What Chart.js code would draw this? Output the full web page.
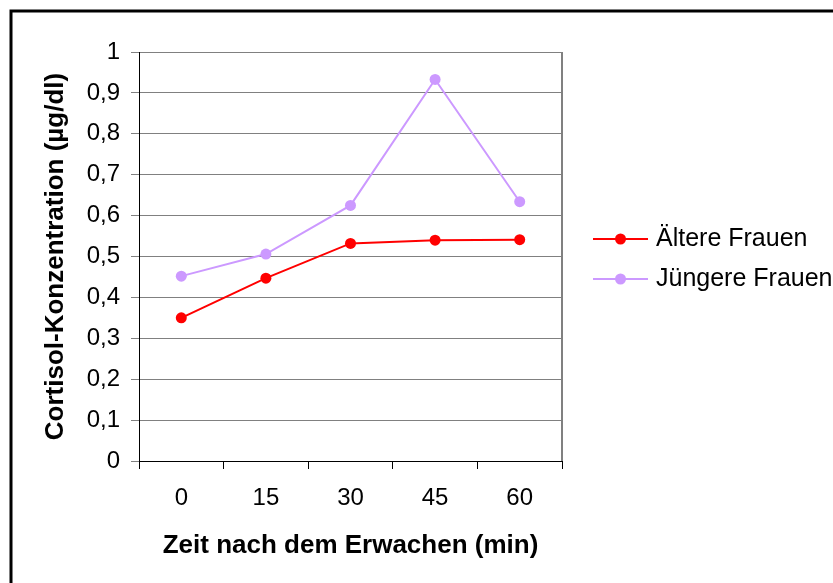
<!DOCTYPE html>
<html>
<head>
<meta charset="utf-8">
<script src="https://cdn.jsdelivr.net/npm/chart.js@4/dist/chart.umd.min.js"></script>
<style>
  html, body { margin: 0; padding: 0; background: #fff; }
  canvas { display: block; }
</style>
</head>
<body>
<canvas id="c" width="833" height="583"></canvas>
<script>
const categories = ['0', '15', '30', '45', '60'];
const aeltereFrauen = [0.35, 0.447, 0.532, 0.54, 0.541];
const juengereFrauen = [0.452, 0.506, 0.625, 0.933, 0.634];
const yTickLabels = ['0', '0,1', '0,2', '0,3', '0,4', '0,5', '0,6', '0,7', '0,8', '0,9', '1'];
const seriesNames = ['Ältere Frauen', 'Jüngere Frauen'];
const xTitle = 'Zeit nach dem Erwachen (min)';
const yTitle = 'Cortisol-Konzentration (µg/dl)';

const FONT = "'Liberation Sans', Arial, Helvetica, sans-serif";

const framePlugin = {
  id: 'frame',
  beforeDraw(chart) {
    const ctx = chart.ctx;
    ctx.save();
    ctx.fillStyle = '#fff';
    ctx.fillRect(0, 0, chart.width, chart.height);
    ctx.restore();
  },
  afterDraw(chart) {
    const ctx = chart.ctx;
    const a = chart.chartArea;
    ctx.save();
    // right edge of plot area
    ctx.strokeStyle = '#808080';
    ctx.lineWidth = 2;
    ctx.beginPath();
    ctx.moveTo(a.right, a.top);
    ctx.lineTo(a.right, a.bottom);
    ctx.stroke();
    // outer frame
    ctx.strokeStyle = '#000';
    ctx.lineWidth = 3;
    ctx.strokeRect(11, 11, 2000, 2000);
    // legend
    const items = chart.data.datasets;
    const x0 = 593, x1 = 648, tx = 656;
    const ys = [239, 279];
    items.forEach((ds, i) => {
      const y = ys[i];
      ctx.strokeStyle = ds.borderColor;
      ctx.lineWidth = 2;
      ctx.beginPath();
      ctx.moveTo(x0, y);
      ctx.lineTo(x1, y);
      ctx.stroke();
      ctx.fillStyle = ds.pointBackgroundColor;
      ctx.beginPath();
      ctx.arc((x0 + x1) / 2, y, 5.5, 0, Math.PI * 2);
      ctx.fill();
      ctx.fillStyle = '#000';
      ctx.font = '25px ' + FONT;
      ctx.textAlign = 'left';
      ctx.textBaseline = 'middle';
      ctx.fillText(ds.label, tx, y);
    });
    ctx.restore();
  }
};

new Chart(document.getElementById('c'), {
  type: 'line',
  data: {
    labels: categories,
    datasets: [
      {
        label: seriesNames[0],
        data: aeltereFrauen,
        borderColor: '#FF0000',
        backgroundColor: '#FF0000',
        pointBackgroundColor: '#FF0000',
        pointBorderColor: '#FF0000',
        borderWidth: 2,
        pointRadius: 5.5,
        pointBorderWidth: 0,
        tension: 0
      },
      {
        label: seriesNames[1],
        data: juengereFrauen,
        borderColor: '#CC99FF',
        backgroundColor: '#CC99FF',
        pointBackgroundColor: '#CC99FF',
        pointBorderColor: '#CC99FF',
        borderWidth: 2,
        pointRadius: 5.5,
        pointBorderWidth: 0,
        tension: 0
      }
    ]
  },
  options: {
    responsive: false,
    animation: false,
    devicePixelRatio: 1,
    layout: { padding: { left: 0, top: 52, right: 271, bottom: 0 } },
    plugins: {
      legend: { display: false },
      tooltip: { enabled: false }
    },
    scales: {
      x: {
        offset: true,
        grid: {
          offset: true,
          drawOnChartArea: false,
          drawTicks: true,
          tickLength: 8,
          color: '#000',
          lineWidth: 1
        },
        border: { display: true, color: '#000', width: 1 },
        ticks: {
          color: '#000',
          font: { family: FONT, size: 24 },
          padding: 15,
          maxRotation: 0
        },
        title: {
          display: true,
          text: xTitle,
          color: '#000',
          font: { family: FONT, size: 26, weight: 'bold' },
          padding: { top: 22, bottom: 22 }
        },
        afterFit(scale) { scale.height = 122; }
      },
      y: {
        min: 0,
        max: 1,
        grid: {
          color: '#808080',
          lineWidth: 1,
          drawTicks: true,
          tickLength: 8
        },
        border: { display: true, color: '#000', width: 1 },
        ticks: {
          stepSize: 0.1,
          color: '#000',
          font: { family: FONT, size: 24 },
          padding: 11,
          callback: (v, i) => yTickLabels[i]
        },
        title: {
          display: true,
          text: yTitle,
          color: '#000',
          font: { family: FONT, size: 26, weight: 'bold' },
          padding: { top: 40, bottom: 40 }
        },
        afterFit(scale) { scale.width = 139; }
      }
    }
  },
  plugins: [framePlugin]
});
</script>
</body>
</html>
